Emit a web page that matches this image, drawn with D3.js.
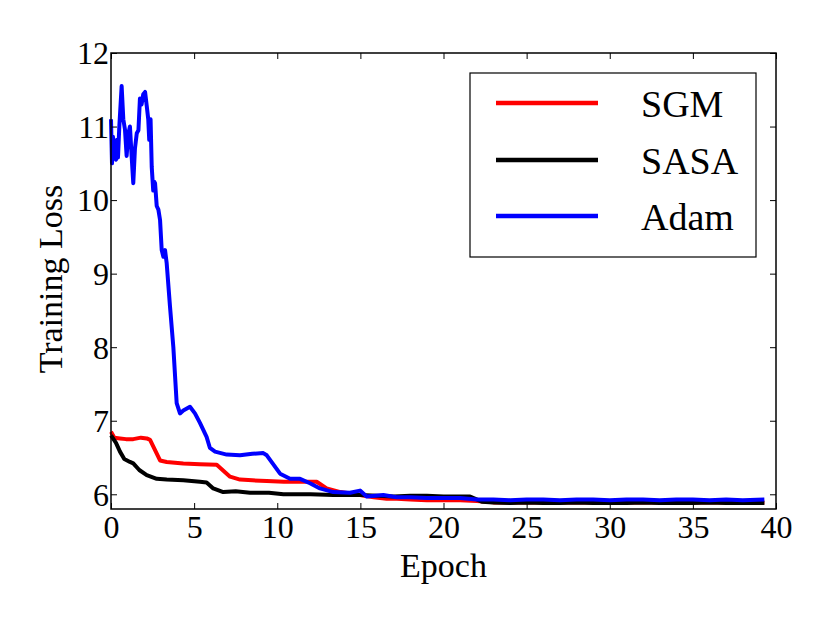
<!DOCTYPE html>
<html lang="en">
<head>
<meta charset="UTF-8">
<title>Training Loss</title>
<script src="https://cdn.jsdelivr.net/npm/d3@7"></script>
<style>
  body { margin: 0; background: #fff; }
  text { font-family: "Liberation Serif", "DejaVu Serif", serif; fill: #000; }
</style>
</head>
<body>
<div id="chart"></div>
<script>
// series as [epoch, loss] pairs
var sgm = [[0,6.85],[0.2,6.77],[0.54,6.76],[0.9,6.75],[1.34,6.75],[1.8,6.77],[2.15,6.76],[2.35,6.74],
  [2.95,6.46],[3.35,6.44],[4.35,6.42],[5.35,6.41],[6.36,6.4],[7.16,6.24],[7.76,6.2],[8.5,6.19],
  [9.37,6.18],[10.4,6.17],[11.37,6.17],[12.37,6.17],[12.97,6.08],[13.8,6.03],[14.98,5.99],
  [15.8,5.96],[16.58,5.94],[17.2,5.94],[18,5.93],[19,5.92],[20,5.92],[21,5.92],[22,5.91],
  [23,5.89],[25,5.89],[27,5.89],[29,5.89],[31,5.89],[33,5.89],[35,5.89],[37,5.89],[39.3,5.89]];

var sasa = [[0,6.8],[0.3,6.7],[0.54,6.58],[0.8,6.48],[1.14,6.44],[1.34,6.42],[1.7,6.33],[2.15,6.26],
  [2.75,6.21],[3.35,6.2],[4.35,6.19],[5.35,6.17],[5.75,6.16],[6.15,6.08],[6.75,6.03],[7.5,6.04],
  [8.36,6.02],[9.5,6.02],[10.37,6.0],[12,6.0],[13.37,5.99],[15,5.99],[16,5.98],[17,5.97],
  [18,5.98],[19,5.98],[20,5.97],[21,5.97],[21.6,5.97],[22.3,5.9],[23,5.89],[24,5.88],[25,5.89],
  [26,5.88],[27,5.88],[28,5.89],[29,5.88],[30,5.88],[31,5.88],[32,5.89],[33,5.88],[34,5.88],
  [35,5.88],[36,5.89],[37,5.88],[38,5.88],[39.3,5.88]];

var adam = [[0,11.1],[0.06,10.5],[0.12,10.86],[0.2,10.6],[0.3,10.55],[0.36,10.82],[0.42,10.58],
  [0.5,11.0],[0.64,11.55],[0.74,11.1],[0.84,10.96],[0.94,10.6],[1.04,10.9],[1.14,11.0],[1.24,10.6],
  [1.34,10.23],[1.44,10.7],[1.55,10.91],[1.65,10.95],[1.74,11.38],[1.84,11.3],[1.94,11.44],
  [2.05,11.47],[2.15,11.28],[2.24,11.1],[2.3,10.82],[2.38,11.1],[2.45,10.45],[2.54,10.13],
  [2.6,10.25],[2.65,10.23],[2.75,9.92],[2.85,9.87],[2.95,9.73],[3.05,9.32],[3.15,9.23],[3.25,9.32],
  [3.35,9.14],[3.55,8.55],[3.75,8.0],[3.95,7.24],[4.15,7.1],[4.35,7.14],[4.75,7.19],[5.05,7.1],
  [5.35,6.97],[5.75,6.78],[5.95,6.63],[6.26,6.58],[6.96,6.54],[7.76,6.53],[8.5,6.55],[9.16,6.56],
  [9.37,6.53],[10.17,6.28],[10.77,6.21],[11.37,6.21],[11.97,6.15],[12.57,6.08],[13.37,6.03],
  [14.38,6.02],[14.98,6.05],[15.38,5.97],[16.38,5.99],[17.18,5.96],[18,5.96],[19,5.95],[20,5.95],
  [21,5.95],[22,5.93],[23,5.93],[24,5.92],[25,5.93],[26,5.93],[27,5.92],[28,5.93],[29,5.93],
  [30,5.92],[31,5.93],[32,5.93],[33,5.92],[34,5.93],[35,5.93],[36,5.92],[37,5.93],[38,5.92],
  [39.3,5.93]];

var seriesNames = ["SGM", "SASA", "Adam"];
var seriesColors = ["#ff0000", "#000000", "#0000ff"];
var xTicks = [0, 5, 10, 15, 20, 25, 30, 35, 40];
var yTicks = [6, 7, 8, 9, 10, 11, 12];

var W = 830, H = 623;
var pLeft = 111, pRight = 776, pTop = 53, pBottom = 509;

var svg = d3.select("#chart").append("svg")
    .attr("width", W).attr("height", H);

var x = d3.scaleLinear().domain([0, 40]).range([pLeft, pRight]);
var y = d3.scaleLinear().domain([5.8, 12]).range([pBottom, pTop]);

// lines first, frame on top
var line = d3.line().x(function(d) { return x(d[0]); }).y(function(d) { return y(d[1]); });
[sgm, sasa, adam].forEach(function(s, i) {
    svg.append("path")
        .datum(s)
        .attr("d", line)
        .attr("fill", "none")
        .attr("stroke", seriesColors[i])
        .attr("stroke-width", 4)
        .attr("stroke-linejoin", "round");
});

// inward ticks on all four sides
var gb = svg.append("g").attr("transform", "translate(0," + pBottom + ")")
    .call(d3.axisBottom(x).tickValues(xTicks).tickFormat(d3.format("d")).tickSizeInner(-6).tickSizeOuter(0).tickPadding(0));
gb.selectAll("text").attr("y", 29).attr("dy", 0).style("font-size", "32px");

svg.append("g").attr("transform", "translate(0," + pTop + ")")
    .call(d3.axisTop(x).tickValues(xTicks).tickSizeInner(-6).tickSizeOuter(0).tickFormat(""));

var gl = svg.append("g").attr("transform", "translate(" + pLeft + ",0)")
    .call(d3.axisLeft(y).tickValues(yTicks).tickFormat(d3.format("d")).tickSizeInner(-6).tickSizeOuter(0).tickPadding(0));
gl.selectAll("text").attr("x", -2).attr("dy", "0.34em").style("font-size", "32px");

svg.append("g").attr("transform", "translate(" + pRight + ",0)")
    .call(d3.axisRight(y).tickValues(yTicks).tickSizeInner(-6).tickSizeOuter(0).tickFormat(""));

svg.selectAll(".domain").remove();
svg.selectAll(".tick line").attr("stroke", "#000").attr("stroke-width", 1);
svg.selectAll("g").attr("font-family", null).attr("font-size", null);

svg.append("rect")
    .attr("x", pLeft).attr("y", pTop)
    .attr("width", pRight - pLeft).attr("height", pBottom - pTop)
    .attr("fill", "none").attr("stroke", "#000").attr("stroke-width", 1.5);

// axis titles
svg.append("text")
    .attr("x", (pLeft + pRight) / 2).attr("y", 577)
    .attr("text-anchor", "middle").style("font-size", "34px")
    .text("Epoch");
svg.append("text")
    .attr("transform", "translate(62,279) rotate(-90)")
    .attr("text-anchor", "middle").style("font-size", "34px")
    .text("Training Loss");

// legend
var lg = svg.append("g");
lg.append("rect")
    .attr("x", 470).attr("y", 73).attr("width", 286).attr("height", 184)
    .attr("fill", "#fff").attr("stroke", "#000").attr("stroke-width", 1.2);
var rowY = [103, 160, 216];
seriesNames.forEach(function(name, i) {
    lg.append("line")
        .attr("x1", 496).attr("x2", 598)
        .attr("y1", rowY[i]).attr("y2", rowY[i])
        .attr("stroke", seriesColors[i]).attr("stroke-width", 4.5);
    lg.append("text")
        .attr("x", 641).attr("y", rowY[i] + 14)
        .style("font-size", "38px")
        .text(name);
});
</script>
</body>
</html>
